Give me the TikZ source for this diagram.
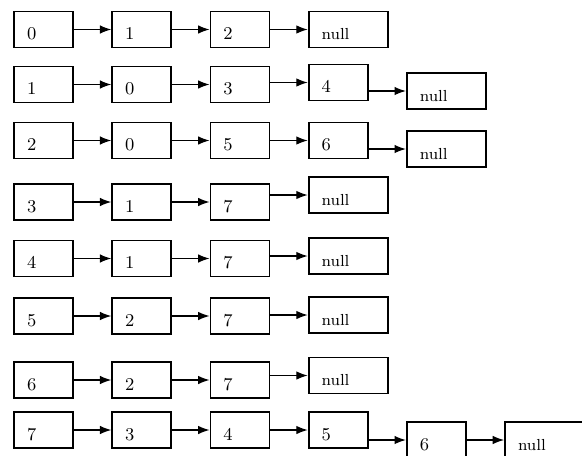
\documentclass[tikz,border=0pt]{standalone}
\usepackage{tikz}
\usetikzlibrary{positioning,arrows.meta}
\tikzset{
cell/.style={
draw,
line width=0.9pt,
minimum width=29.5pt,
minimum height=18pt,
inner xsep=6.5pt,
text width=16.5pt,
align=left,
text height=10pt,
text depth=0pt,
font=\small
},
nullcell/.style={
cell,
minimum width=39.5pt,
text width=26.5pt,
font=\footnotesize
},
arrow/.style={
-{Latex[length=2mm]},
line width=0.6pt
}
}

\begin{document}
\begin{tikzpicture}[x=0.5pt,y=-0.5pt,node distance=18.7pt]
\useasboundingbox (0,0) rectangle (582,455);
% row 0
\node[cell](a0) at (43.5,29.5){0};
\node[cell,right=of a0](a1){1};
\node[cell,right=of a1](a2){2};
\node[nullcell,right=of a2](a3){null};
% row 1
\node[cell](b0) at (43.5,84.5){1};
\node[cell,right=of b0](b1){0};
\node[cell,right=of b1](b2){3};
\node[cell,right=of b2,yshift=1pt](b3){4};
\node[nullcell,right=of b3,yshift=-4.25pt](b4){null};
% row 2
\node[cell](c0) at (43.5,140.5){2};
\node[cell,right=of c0](c1){0};
\node[cell,right=of c1](c2){5};
\node[cell,right=of c2](c3){6};
\node[nullcell,right=of c3,yshift=-4.25pt](c4){null};
% row 3
\node[cell](d0) at (43.5,202){3};
\node[cell,right=of d0](d1){1};
\node[cell,right=of d1](d2){7};
\node[nullcell,right=of d2,yshift=3.5pt](d3){null};
% row 4
\node[cell](e0) at (43.5,258.5){4};
\node[cell,right=of e0](e1){1};
\node[cell,right=of e1](e2){7};
\node[nullcell,right=of e2,yshift=1.25pt](e3){null};
% row 5
\node[cell](f0) at (43.5,316){5};
\node[cell,right=of f0](f1){2};
\node[cell,right=of f1](f2){7};
\node[nullcell,right=of f2,yshift=0.5pt](f3){null};
% row 6
\node[cell](g0) at (43.5,380){6};
\node[cell,right=of g0](g1){2};
\node[cell,right=of g1](g2){7};
\node[nullcell,right=of g2,yshift=2.25pt](g3){null};
% row 7
\node[cell](h0) at (43.5,430){7};
\node[cell,right=of h0](h1){3};
\node[cell,right=of h1](h2){4};
\node[cell,right=of h2](h3){5};
\node[cell,right=of h3,yshift=-5pt](h4){6};
\node[nullcell,right=of h4](h5){null};

\foreach \x/\y in {a0/a1,a1/a2,a2/a3,
b0/b1,b1/b2,b2/b3,b3/b4,
c0/c1,c1/c2,c2/c3,c3/c4,
d0/d1,d1/d2,d2/d3,
e0/e1,e1/e2,e2/e3,
f0/f1,f1/f2,f2/f3,
g0/g1,g1/g2,g2/g3,
h0/h1,h1/h2,h2/h3,h3/h4,h4/h5}
\draw[arrow](\x.east |- \y.west)--(\y.west);
\end{tikzpicture}
\end{document}
